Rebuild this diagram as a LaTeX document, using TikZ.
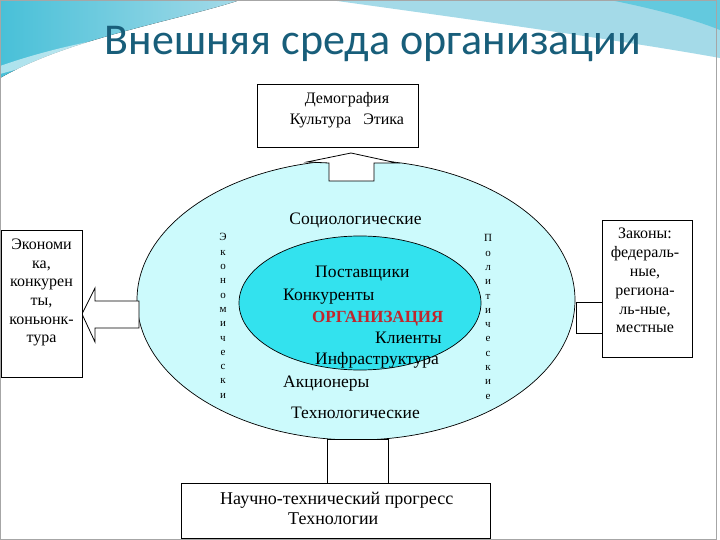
\documentclass[tikz,border=0pt]{standalone}
\usepackage{fontspec}
\setmainfont{Liberation Serif}
\newfontfamily\titlefont{Carlito}
\usetikzlibrary{shapes.geometric}
\definecolor{titleblue}{RGB}{24,94,122}
\definecolor{outercyan}{RGB}{204,250,252}
\definecolor{innercyan}{RGB}{51,226,238}
\definecolor{orgred}{RGB}{192,38,45}
\definecolor{hdrA}{RGB}{72,192,216}
\definecolor{hdrB}{RGB}{164,218,232}
\begin{document}
\begin{tikzpicture}[x=1pt,y=-1pt,
  box/.style={draw=black, line width=0.8pt, fill=white, line join=miter},
  boxtxt/.style={inner sep=0pt, align=center},
  intxt/.style={inner sep=0pt, font=\fontsize{17.5}{20}\selectfont},
  vtxt/.style={inner sep=0pt, align=center, font=\fontsize{11}{14.3}\selectfont}]
\useasboundingbox (0,0) rectangle (720,540);
\fill[white] (0,0) rectangle (720,540);
% header decoration
\fill[left color=hdrA, right color=hdrB] (0,0) -- (240,0) .. controls (180,20) and (70,38) .. (0,78) -- cycle;
\fill[hdrB] (330,0) -- (720,0) -- (720,58) .. controls (620,40) and (460,18) .. (330,0) -- cycle;
\fill[hdrA!85] (610,0) -- (720,0) -- (720,30) .. controls (690,18) and (650,8) .. (610,0) -- cycle;
\fill[white, opacity=0.55] (0,66) .. controls (80,38) and (170,26) .. (262,22) .. controls (170,34) and (80,52) .. (0,74) -- cycle;
\draw[gray!70, line width=1pt] (0.5,0.5) rectangle (716,539);
% title
\node[font=\titlefont\fontsize{44}{50}\selectfont, text=titleblue, anchor=base, inner sep=0pt] (title) at (373,55) {Внешняя среда организации};
% outer ellipse
\node[draw=black, line width=0.7pt, ellipse, fill=outercyan, minimum width=438pt, minimum height=280pt, inner sep=0pt] (outer) at (356,300) {};
% block arrows / connectors
\draw[box] (329,181) -- (329,163) -- (307,162) -- (351,153) -- (397,163) -- (374,163) -- (374,181) -- cycle;
\draw[box] (139,301) -- (95,301) -- (95,288) -- (82,314) -- (95,342) -- (95,328) -- (139,328) -- cycle;
\draw[box] (576,302) rectangle (602,333);
\draw[box] (327,439) rectangle (388,483);
% boxes
\node[box, anchor=north west, minimum width=161pt, minimum height=63pt, inner sep=0pt] (demo) at (257,84) {};
\node[box, anchor=north west, minimum width=81pt, minimum height=147pt, inner sep=0pt] (econ) at (1,230) {};
\node[box, anchor=north west, minimum width=90pt, minimum height=137pt, inner sep=0pt] (laws) at (602,220) {};
\node[box, anchor=north west, minimum width=309pt, minimum height=55pt, inner sep=0pt] (tech) at (181,483) {};
% box texts
\node[boxtxt, anchor=north, font=\fontsize{16}{21}\selectfont] (demotxt) at (347,92) {Демография\\Культура\ \ \ Этика};
\node[boxtxt, anchor=north, font=\fontsize{16}{18.6}\selectfont] (econtxt) at (41.5,239) {Экономи\\ка,\\конкурен\\ты,\\коньюнк-\\тура};
\node[boxtxt, anchor=north, font=\fontsize{16}{18.8}\selectfont] (lawstxt) at (645,228) {Законы:\\федераль-\\ные,\\регионa-\\ль-ные,\\местные};
\node[inner sep=0pt, align=left, anchor=north west, font=\fontsize{18}{20}\selectfont] (techtxt) at (220,492) {Научно-технический прогресс\\\hspace*{68pt}Технологии};
% inner ellipse
\node[draw=black, line width=0.7pt, ellipse, fill=innercyan, minimum width=242pt, minimum height=134pt, inner sep=0pt] (inner) at (360,303) {};
% outer ring texts
\node[intxt, anchor=base] (soc) at (355.5,225) {Социологические};
\node[intxt, anchor=base] (tec) at (355.5,418) {Технологические};
\node[vtxt] (ecov) at (223,316) {Э\\к\\о\\н\\о\\м\\и\\ч\\е\\с\\к\\и};
\node[vtxt] (polv) at (488,317) {П\\о\\л\\и\\т\\и\\ч\\е\\с\\к\\и\\е};
% inner texts
\node[intxt, anchor=base west] (post) at (315,277) {Поставщики};
\node[intxt, anchor=base west] (konk) at (283,300) {Конкуренты};
\node[intxt, anchor=base west, text=orgred, font=\bfseries\fontsize{17}{20}\selectfont] (org) at (312,322) {ОРГАНИЗАЦИЯ};
\node[intxt, anchor=base west] (klient) at (375,343) {Клиенты};
\node[intxt, anchor=base west] (infra) at (315,364) {Инфраструктура};
\node[intxt, anchor=base west] (akc) at (283,387) {Акционеры};
\end{tikzpicture}
\end{document}
